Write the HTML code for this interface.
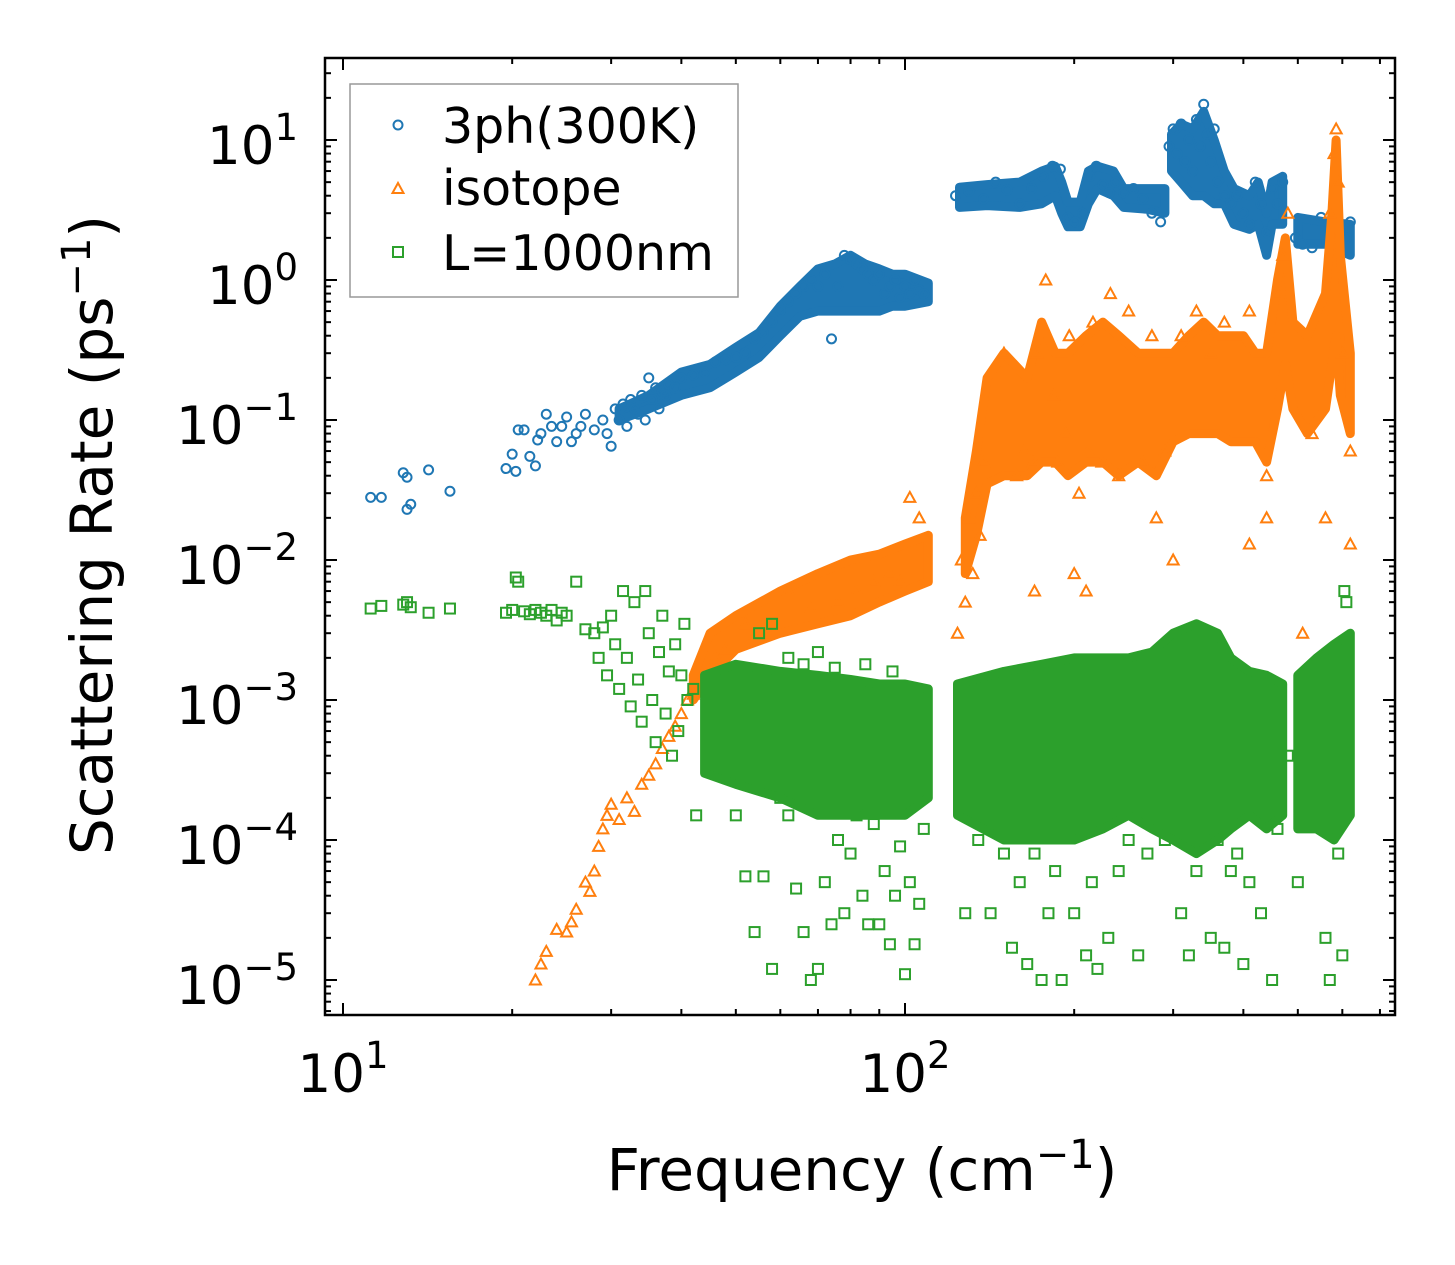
<!DOCTYPE html>
<html><head><meta charset="utf-8"><style>
html,body{margin:0;padding:0;background:#fff;}
svg{display:block;font-family:"DejaVu Sans","Liberation Sans",sans-serif;}
</style></head><body>
<svg id="chart" width="1455" height="1265" viewBox="0 0 1455 1265" xmlns="http://www.w3.org/2000/svg">
<rect width="1455" height="1265" fill="#fff"/>
<defs><clipPath id="clip"><rect x="325" y="58" width="1070" height="957"/></clipPath></defs>
<g id="plot" clip-path="url(#clip)"></g>
<g id="axes"></g>
<g>
<rect x="350" y="84" width="388" height="213" fill="#fff" fill-opacity="0.85" stroke="#999" stroke-width="1.5"/>
<circle cx="398" cy="125" r="4.5" fill="none" stroke="#1f77b4" stroke-width="2"/>
<text x="442" y="143" font-size="49" fill="#000">3ph(300K)</text>
<path d="M392.5,193 L398,183 L403.5,193 Z" fill="none" stroke="#ff7f0e" stroke-width="2"/>
<text x="442" y="205" font-size="49" fill="#000">isotope</text>
<rect x="393" y="247" width="10" height="10" fill="none" stroke="#2ca02c" stroke-width="2"/>
<text x="442" y="270" font-size="49" fill="#000">L=1000nm</text>
</g>
<text x="862" y="1190" font-size="58" text-anchor="middle" fill="#000">Frequency (cm<tspan dy="-22" font-size="40">−1</tspan><tspan dy="22">)</tspan></text>
<text transform="translate(112,535) rotate(-90)" font-size="58" text-anchor="middle" fill="#000">Scattering Rate (ps<tspan dy="-22" font-size="40">−1</tspan><tspan dy="22">)</tspan></text>
</svg>
<script>
// ---- data ----
const blueF=[11.2,11.7,12.8,13,13,13.2,14.2,15.5,19.5,20,20.3,20.5,21,21.5,22,22.2,22.5,23,23.5,24,24.5,25,25.5,26,26.5,27,28,29,29.5,30,30.5,31,31.5,32,32.5,33,33.5,34,34.5,35,35.5,36,36.5,37,37.5,38,39,40,42,44,46,48,50,52,54,56,58,60,62,64,66,68,70,72,74,76,78,80,82,84,86,88,90,92,94,96,98,100,102,104,106,108,123,130,138,145,152,160,168,176,183,189,195,201,207,213,219,225,231,237,245,255,265,275,285,295,300,305,310,315,320,325,330,335,340,345,350,355,360,370,380,390,400,410,420,430,440,450,460,470,495,510,530,550,570,590,610,620];
const blueV=[.028,.028,.042,.039,.023,.025,.044,.031,.045,.057,.043,.085,.085,.055,.047,.072,.08,.11,.09,.07,.09,.105,.07,.08,.09,.11,.085,.1,.08,.065,.12,.1,.13,.09,.14,.12,.11,.15,.1,.2,.14,.17,.12,.16,.15,.18,.17,.2,.21,.22,.26,.27,.28,.3,.38,.42,.5,.6,.7,.8,.9,1.0,.9,1.1,.38,.9,1.5,1.4,1.3,1.2,1.1,1.0,1.1,.8,.9,1.0,.75,.9,.8,1.0,.85,.8,4,4.3,3.8,5,4.4,3.5,4.5,5.5,6.5,6.2,2.8,2.6,3,5.5,6.5,4.8,4.2,5,4.2,4.5,3.8,3,2.6,9,12,8,13,7,10,6,14,9,18,11,7,12,5,4,3.5,4,3,2.5,5,3.5,2.2,4.5,3.5,5,2,1.8,1.7,2.8,2.1,1.6,2,2.6];
const blueBandF=[31,35,40,45,50,55,60,65,70,75,80,85,90,95,100,110,null,125,140,160,175,185,190,195,205,212,220,235,245,270,290,null,298,310,325,340,355,370,385,410,425,440,450,470,null,500,560,620];
const blueBandLo=[.1,.12,.15,.17,.22,.28,.4,.55,.6,.6,.6,.6,.6,.65,.65,.7,null,3.3,3.4,3.3,3.5,4,3,2.4,2.4,3.5,4.5,4,3.3,3.2,3,null,6,5,4,4,3.5,3.5,2.5,2.3,2.5,1.5,2.5,2.5,null,1.8,1.8,1.5];
const blueBandHi=[.12,.15,.22,.25,.33,.42,.65,.9,1.2,1.3,1.5,1.3,1.2,1.1,1.1,.95,null,4.6,4.8,5,6,6.5,5,3.6,3.6,6,6.5,6,4.5,4.5,4.5,null,11,13,12,16,10,6,4.5,4,5,3,5,5.5,null,2.8,2.6,2.5];

const orangeF=[22,22.5,23,24,25,25.5,26,27,27.5,28,28.5,29,29.5,30,31,32,33,34,35,36,37,38,39,40,41,42,43,44,46,48,52,56,62,68,76,82,88,94,98,102,106,124,126,128,130,132,134,136,138,150,158,163,169,172,178,184,187,193,196,204,212,216,224,232,240,250,265,275,290,310,330,350,370,410,440,460,470,480,530,550,570,580,585,590,600,620,170,200,210,280,300,410,440,510,560,620];
const orangeV=[1e-5,1.3e-5,1.6e-5,2.3e-5,2.2e-5,2.6e-5,3.2e-5,5e-5,4.3e-5,6e-5,9e-5,1.2e-4,1.5e-4,1.8e-4,1.4e-4,2e-4,1.6e-4,2.5e-4,2.9e-4,3.5e-4,4.5e-4,5.5e-4,6.5e-4,8e-4,1e-3,1.1e-3,1.4e-3,1.3e-3,2e-3,2.3e-3,3.5e-3,3e-3,6e-3,4.5e-3,5e-3,6e-3,7e-3,8e-3,7e-3,2.8e-2,2e-2,3e-3,1e-2,5e-3,2e-2,8e-3,3e-2,1.5e-2,5e-2,.3,.04,.06,.05,.3,1.0,.15,.05,.08,.4,.03,.06,.5,.05,.8,.04,.6,.05,.4,.06,.4,.6,.3,.5,.6,.04,.8,1.5,3,.08,.6,3,8,12,5,.3,.06,6e-3,8e-3,6e-3,2e-2,1e-2,1.3e-2,2e-2,3e-3,2e-2,1.3e-2];
const orangeBandF=[42,45,50,60,70,80,90,100,110,null,128,134,140,150,165,175,185,195,210,225,240,260,280,300,320,340,360,380,400,420,440,460,475,490,520,560,575,585,595,620];
const orangeBandLo=[1e-3,1.5e-3,2.3e-3,3e-3,3.5e-3,4e-3,5e-3,6e-3,7e-3,null,8e-3,.015,.035,.04,.04,.05,.05,.04,.05,.05,.04,.05,.04,.07,.08,.08,.08,.07,.07,.07,.05,.12,.25,.12,.08,.12,.25,.4,.15,.08];
const orangeBandHi=[1.5e-3,3e-3,4e-3,6e-3,8e-3,1e-2,1.1e-2,1.3e-2,1.5e-2,null,.02,.06,.2,.3,.2,.5,.3,.3,.4,.5,.4,.3,.3,.3,.4,.5,.4,.4,.4,.3,.3,1,2,.5,.4,.8,3,10,1.5,.3];

const greenF=[11.2,11.7,12.8,13,13.2,14.2,15.5,19.5,20,20.3,20.5,21,21.5,22,22.5,23,23.5,24,24.5,25,26,27,28,28.5,29,29.5,30,30.5,31,31.5,32,32.5,33,33.5,34,34.5,35,35.5,36,36.5,37,37.5,38,38.5,39,39.5,40,40.5,41,42,42.5,50,52,54,56,58,60,62,64,66,68,70,72,74,76,78,80,82,84,86,88,90,92,94,96,98,100,102,104,106,108,55,58,62,66,70,75,85,95,128,135,142,150,155,160,165,170,175,180,185,190,200,210,215,220,230,240,250,260,270,290,310,320,330,340,350,360,370,380,390,400,410,430,450,460,480,500,560,570,590,600,605,610];
const greenV=[4.5e-3,4.7e-3,4.8e-3,5e-3,4.6e-3,4.2e-3,4.5e-3,4.2e-3,4.4e-3,7.5e-3,7e-3,4.3e-3,4.1e-3,4.4e-3,4.2e-3,4e-3,4.4e-3,3.7e-3,4.2e-3,4e-3,7e-3,3.2e-3,3e-3,2e-3,3.3e-3,1.5e-3,4e-3,2.5e-3,1.2e-3,6e-3,2e-3,9e-4,5e-3,1.4e-3,7e-4,6e-3,3e-3,1e-3,5e-4,2.2e-3,4e-3,8e-4,1.6e-3,4e-4,2.5e-3,6e-4,1.5e-3,3.5e-3,1e-3,1.2e-3,1.5e-4,1.5e-4,5.5e-5,2.2e-5,5.5e-5,1.2e-5,2e-4,1.5e-4,4.5e-5,2.2e-5,1e-5,1.2e-5,5e-5,2.5e-5,1e-4,3e-5,8e-5,1.5e-4,4e-5,2.5e-5,1.3e-4,2.5e-5,6e-5,1.8e-5,4e-5,9e-5,1.1e-5,5e-5,1.8e-5,3.5e-5,1.2e-4,3e-3,3.5e-3,2e-3,1.8e-3,2.2e-3,1.7e-3,1.8e-3,1.6e-3,3e-5,1e-4,3e-5,8e-5,1.7e-5,5e-5,1.3e-5,8e-5,1e-5,3e-5,6e-5,1e-5,3e-5,1.5e-5,5e-5,1.2e-5,2e-5,6e-5,1e-4,1.5e-5,8e-5,1e-4,3e-5,1.5e-5,6e-5,1.2e-4,2e-5,1e-4,1.7e-5,6e-5,8e-5,1.3e-5,5e-5,3e-5,1e-5,1.2e-4,4e-4,5e-5,2e-5,1e-5,8e-5,1.5e-5,6e-3,5e-3];
const greenBandF=[44,50,60,70,80,90,100,110,null,124,150,175,200,225,250,275,300,330,360,380,410,440,470,null,500,540,580,620];
const greenBandLo=[3e-4,2.5e-4,2e-4,1.5e-4,1.5e-4,1.5e-4,1.5e-4,2e-4,null,1.5e-4,1e-4,1e-4,1e-4,1.2e-4,1.5e-4,1.2e-4,1e-4,8e-5,1e-4,1.2e-4,1.5e-4,1.2e-4,1.5e-4,null,1.2e-4,1.2e-4,1e-4,1.5e-4];
const greenBandHi=[1.5e-3,1.8e-3,1.6e-3,1.5e-3,1.4e-3,1.3e-3,1.3e-3,1.2e-3,null,1.3e-3,1.6e-3,1.8e-3,2e-3,2e-3,2e-3,2.2e-3,3e-3,3.5e-3,3e-3,2e-3,1.6e-3,1.5e-3,1.3e-3,null,1.5e-3,2e-3,2.5e-3,3e-3];

const xTickVals=[10,100];
const xTickLabels=["1","2"];
const yTickVals=[10,1,0.1,0.01,0.001,0.0001,0.00001];
const yTickLabels=["1","0","−1","−2","−3","−4","−5"];

// ---- axes ----
const L=325,R=1395,T=58,B=1015;
const xs=f=>343+562*Math.log10(f/10);
const ys=v=>140-140*(Math.log10(v)-1);
const NS="http://www.w3.org/2000/svg";
const plot=document.getElementById('plot'), axes=document.getElementById('axes');
function mk(tag,attrs,parent){const e=document.createElementNS(NS,tag);for(const k in attrs)e.setAttribute(k,attrs[k]);parent.appendChild(e);return e;}

function band(F,lo,hi,color,name){
  let seg=[];const segs=[];
  for(let i=0;i<F.length;i++){ if(F[i]===null){segs.push(seg);seg=[];} else seg.push(i); }
  segs.push(seg);
  segs.forEach(s=>{
    if(s.length<2)return;
    let d='M'+s.map(i=>xs(F[i]).toFixed(1)+','+ys(hi[i]).toFixed(1)).join(' L');
    d+=' L'+s.slice().reverse().map(i=>xs(F[i]).toFixed(1)+','+ys(lo[i]).toFixed(1)).join(' L')+' Z';
    const p=mk('path',{d:d,fill:color,stroke:color,'stroke-width':9,'stroke-linejoin':'round'},plot);
    
    
  });
}
function scatter(F,V,color,shape,name){
  for(let i=0;i<F.length;i++){
    const x=xs(F[i]),y=ys(V[i]);let e;
    if(shape==='c') e=mk('circle',{cx:x,cy:y,r:4.5,fill:'none',stroke:color,'stroke-width':2},plot);
    else if(shape==='t') e=mk('path',{d:`M${x-5.5},${y+4.5} L${x},${y-5.5} L${x+5.5},${y+4.5} Z`,fill:'none',stroke:color,'stroke-width':2},plot);
    else e=mk('rect',{x:x-5,y:y-5,width:10,height:10,fill:'none',stroke:color,'stroke-width':2},plot);
    
    
  }
}
band(blueBandF,blueBandLo,blueBandHi,'#1f77b4','3ph-dense-region');
scatter(blueF,blueV,'#1f77b4','c','3ph-point');
band(orangeBandF,orangeBandLo,orangeBandHi,'#ff7f0e','isotope-dense-region');
scatter(orangeF,orangeV,'#ff7f0e','t','isotope-point');
band(greenBandF,greenBandLo,greenBandHi,'#2ca02c','boundary-dense-region');
scatter(greenF,greenV,'#2ca02c','s','boundary-point');

// frame
const fr=mk('rect',{x:L,y:T,width:R-L,height:B-T,fill:'none',stroke:'#000','stroke-width':2.5},axes);


for(let dec=1;dec<=3;dec++){
  for(let m=1;m<10;m++){
    const v=m*Math.pow(10,dec);
    const x=xs(v/10);
    if(x<L-1||x>R+1)continue;
    const len=m===1?12:6;
    const t1=mk('line',{x1:x,y1:B,x2:x,y2:B-len,stroke:'#000','stroke-width':2},axes);
    
    
    const t2=mk('line',{x1:x,y1:T,x2:x,y2:T+len,stroke:'#000','stroke-width':2},axes);
    
    
  }
}
xTickVals.forEach((v,i)=>{
  const t=mk('text',{x:xs(v),y:1092,'font-size':53,'text-anchor':'middle',fill:'#000'},axes);
  
  
  t.innerHTML='10<tspan dy="-24" font-size="37">'+xTickLabels[i]+'</tspan>';
});
for(let dec=-6;dec<=1;dec++){
  for(let m=1;m<10;m++){
    const v=m*Math.pow(10,dec);
    const y=ys(v);
    if(y<T-1||y>B+1)continue;
    const len=m===1?12:6;
    const t1=mk('line',{x1:L,y1:y,x2:L+len,y2:y,stroke:'#000','stroke-width':2},axes);
    
    
    const t2=mk('line',{x1:R,y1:y,x2:R-len,y2:y,stroke:'#000','stroke-width':2},axes);
    
    
  }
}
yTickVals.forEach((v,i)=>{
  const t=mk('text',{x:298,y:ys(v)+24,'font-size':53,'text-anchor':'end',fill:'#000'},axes);
  
  
  t.innerHTML='10<tspan dy="-24" font-size="37">'+yTickLabels[i]+'</tspan>';
});
</script>
</body></html>
